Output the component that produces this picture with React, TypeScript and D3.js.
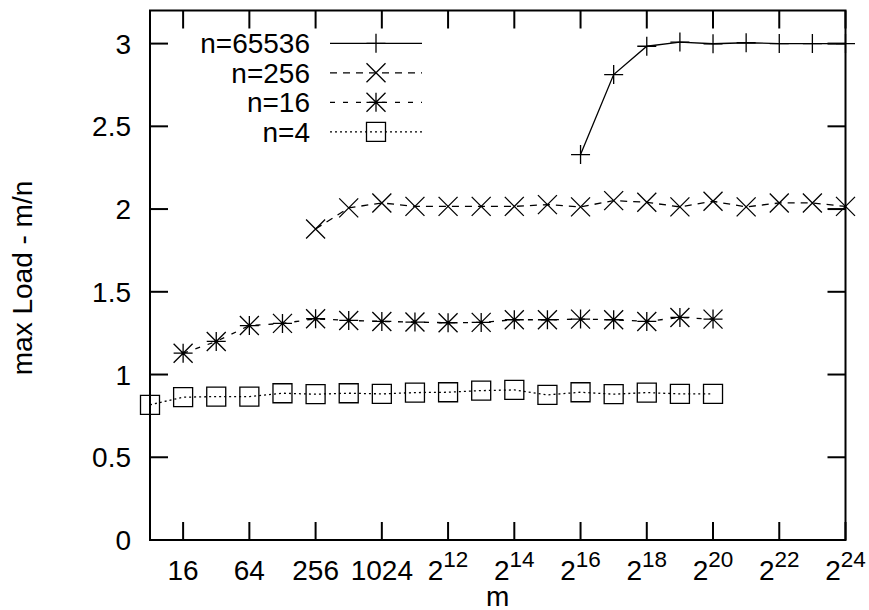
import React from "react";
import * as d3 from "d3";

// ---- data (m = 2^exp) ----
const exp65536 = [16, 17, 18, 19, 20, 21, 22, 23, 24];
const load65536 = [2.329, 2.813, 2.984, 3.009, 2.999, 3.005, 3.0, 3.0, 3.0];

const exp256 = [8, 9, 10, 11, 12, 13, 14, 15, 16, 17, 18, 19, 20, 21, 22, 23, 24];
const load256 = [1.88, 2.007, 2.037, 2.016, 2.016, 2.016, 2.016, 2.027, 2.013, 2.051, 2.041, 2.013, 2.047, 2.013, 2.037, 2.037, 2.016];

const exp16 = [4, 5, 6, 7, 8, 9, 10, 11, 12, 13, 14, 15, 16, 17, 18, 19, 20];
const load16 = [1.129, 1.2, 1.296, 1.309, 1.337, 1.327, 1.321, 1.317, 1.313, 1.315, 1.331, 1.331, 1.335, 1.331, 1.321, 1.345, 1.335];

const exp4 = [3, 4, 5, 6, 7, 8, 9, 10, 11, 12, 13, 14, 15, 16, 17, 18, 19, 20];
const load4 = [0.817, 0.863, 0.867, 0.867, 0.887, 0.881, 0.887, 0.883, 0.891, 0.893, 0.903, 0.907, 0.877, 0.893, 0.881, 0.891, 0.883, 0.883];

const xTickExps = [4, 6, 8, 10, 12, 14, 16, 18, 20, 22, 24];
const xTickPlain = ["16", "64", "256", "1024"];
const yTicks = [0, 0.5, 1, 1.5, 2, 2.5, 3];
const yTickLabels = ["0", "0.5", "1", "1.5", "2", "2.5", "3"];

const seriesNames = ["n=65536", "n=256", "n=16", "n=4"];

const FONT = "'Liberation Sans', Arial, Helvetica, sans-serif";

type Marker = "plus" | "cross" | "star" | "square";

function markerPath(kind: Marker, cx: number, cy: number, r: number): string {
  const p = d3.path();
  const plus = () => {
    p.moveTo(cx - r, cy); p.lineTo(cx + r, cy);
    p.moveTo(cx, cy - r); p.lineTo(cx, cy + r);
  };
  const cross = () => {
    p.moveTo(cx - r, cy - r); p.lineTo(cx + r, cy + r);
    p.moveTo(cx - r, cy + r); p.lineTo(cx + r, cy - r);
  };
  if (kind === "plus") plus();
  else if (kind === "cross") cross();
  else if (kind === "star") { plus(); cross(); }
  else p.rect(cx - r, cy - r, 2 * r, 2 * r);
  return p.toString();
}

export default function App() {
  const W = 869, H = 610;
  const left = 150, right = 845.5, top = 10.5, bottom = 540;
  const x = d3.scaleLog().base(2).domain([8, 2 ** 24]).range([left, right]);
  const y = d3.scaleLinear().domain([0, 3.2]).range([bottom, top]);

  const series = [
    { name: seriesNames[0], exps: exp65536, vals: load65536, marker: "plus" as Marker, dash: "none" },
    { name: seriesNames[1], exps: exp256, vals: load256, marker: "cross" as Marker, dash: "7,6" },
    { name: seriesNames[2], exps: exp16, vals: load16, marker: "star" as Marker, dash: "5,8" },
    { name: seriesNames[3], exps: exp4, vals: load4, marker: "square" as Marker, dash: "2,3" },
  ];

  const line = d3.line<[number, number]>().x((d) => x(2 ** d[0])).y((d) => y(d[1]));
  const tickLen = 18;
  const mr = 9.5;
  const fs = 28;

  return (
    <svg width={W} height={H} style={{ position: "absolute", left: 0, top: 0, background: "#fff" }}>
      <rect x={0} y={0} width={W} height={H} fill="#fff" />
      {/* y ticks */}
      {yTicks.map((t, i) => (
        <g key={"yt" + i}>
          <line x1={left} x2={left + tickLen} y1={y(t)} y2={y(t)} stroke="#000" strokeWidth={2} />
          <line x1={right - tickLen} x2={right} y1={y(t)} y2={y(t)} stroke="#000" strokeWidth={2} />
          <text x={131} y={y(t) + 10} textAnchor="end" fontFamily={FONT} fontSize={fs}>{yTickLabels[i]}</text>
        </g>
      ))}
      {/* x ticks */}
      {xTickExps.map((e, i) => (
        <g key={"xt" + i}>
          <line x1={x(2 ** e)} x2={x(2 ** e)} y1={bottom} y2={bottom - tickLen} stroke="#000" strokeWidth={2} />
          <line x1={x(2 ** e)} x2={x(2 ** e)} y1={top} y2={top + tickLen} stroke="#000" strokeWidth={2} />
          {i < xTickPlain.length ? (
            <text x={x(2 ** e)} y={580} textAnchor="middle" fontFamily={FONT} fontSize={fs}>{xTickPlain[i]}</text>
          ) : (
            <text x={x(2 ** e)} y={580} textAnchor="middle" fontFamily={FONT} fontSize={fs}>
              2<tspan dy={-13} fontSize={22.5}>{String(e)}</tspan>
            </text>
          )}
        </g>
      ))}
      {/* border */}
      <rect x={left} y={top} width={right - left} height={bottom - top} fill="none" stroke="#000" strokeWidth={2} />
      {/* axis labels */}
      <text x={(left + right) / 2} y={606} textAnchor="middle" fontFamily={FONT} fontSize={fs}>m</text>
      <text transform={`translate(32,278) rotate(-90)`} textAnchor="middle" fontFamily={FONT} fontSize={fs}>max Load - m/n</text>
      {/* series */}
      {series.map((s, si) => {
        const pts: [number, number][] = s.exps.map((e, i) => [e, s.vals[i]]);
        return (
          <g key={"s" + si}>
            <path d={line(pts) || ""} fill="none" stroke="#000" strokeWidth={1.3} strokeDasharray={s.dash} />
            {pts.map((d, i) => (
              <path key={i} d={markerPath(s.marker, x(2 ** d[0]), y(d[1]), mr)} fill="none" stroke="#000" strokeWidth={1.3} />
            ))}
          </g>
        );
      })}
      {/* legend */}
      {series.map((s, si) => {
        const ly = 43.3 + si * 29.5;
        return (
          <g key={"l" + si}>
            <text x={310} y={ly + 10} textAnchor="end" fontFamily={FONT} fontSize={fs}>{s.name}</text>
            <line x1={330} x2={422} y1={ly} y2={ly} stroke="#000" strokeWidth={1.3} strokeDasharray={s.dash} />
            <path d={markerPath(s.marker, 376, ly, mr)} fill="none" stroke="#000" strokeWidth={1.3} />
          </g>
        );
      })}
    </svg>
  );
}
